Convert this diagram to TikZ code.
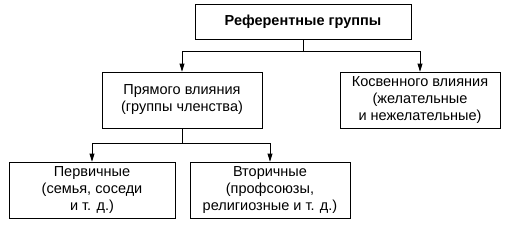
\documentclass[tikz,border=0pt]{standalone}
\usepackage{fontspec}
\setmainfont{Liberation Sans}
\usetikzlibrary{arrows.meta}
\begin{document}
\begin{tikzpicture}[x=1pt,y=-1pt,
  box/.style={draw, line width=0.8pt, align=center, inner sep=0pt,
    font=\fontsize{14.5}{17}\selectfont},
  conn/.style={line width=0.8pt},
  arr/.style={line width=0.8pt, -{Triangle[width=5pt,length=8pt]}}]
\useasboundingbox (0,0) rectangle (506,226);
\node[box, minimum width=216pt, minimum height=35pt, font=\fontsize{14.5}{17}\selectfont\bfseries] (top) at (303,21.5) {Референтные группы};
\node[box, minimum width=160pt, minimum height=56pt] (lm) at (182,100) {Прямого влияния\\(группы членства)};
\node[box, minimum width=160pt, minimum height=56pt] (rm) at (420,100) {Косвенного влияния\\(желательные\\и нежелательные)};
\node[box, minimum width=166pt, minimum height=56pt] (bl) at (92,190) {Первичные\\(семья, соседи\\и т. д.)};
\node[box, minimum width=160pt, minimum height=56pt] (br) at (270,190) {Вторичные\\(профсоюзы,\\религиозные и т. д.)};
\coordinate (j1) at (303,51);
\coordinate (j2) at (182,143);
\draw[conn] (top.south) -- (j1);
\draw[arr] (j1) -| (lm.north);
\draw[arr] (j1) -| (rm.north);
\draw[conn] (lm.south) -- (j2);
\draw[arr] (j2) -| (bl.north);
\draw[arr] (j2) -| (br.north);
\end{tikzpicture}
\end{document}
